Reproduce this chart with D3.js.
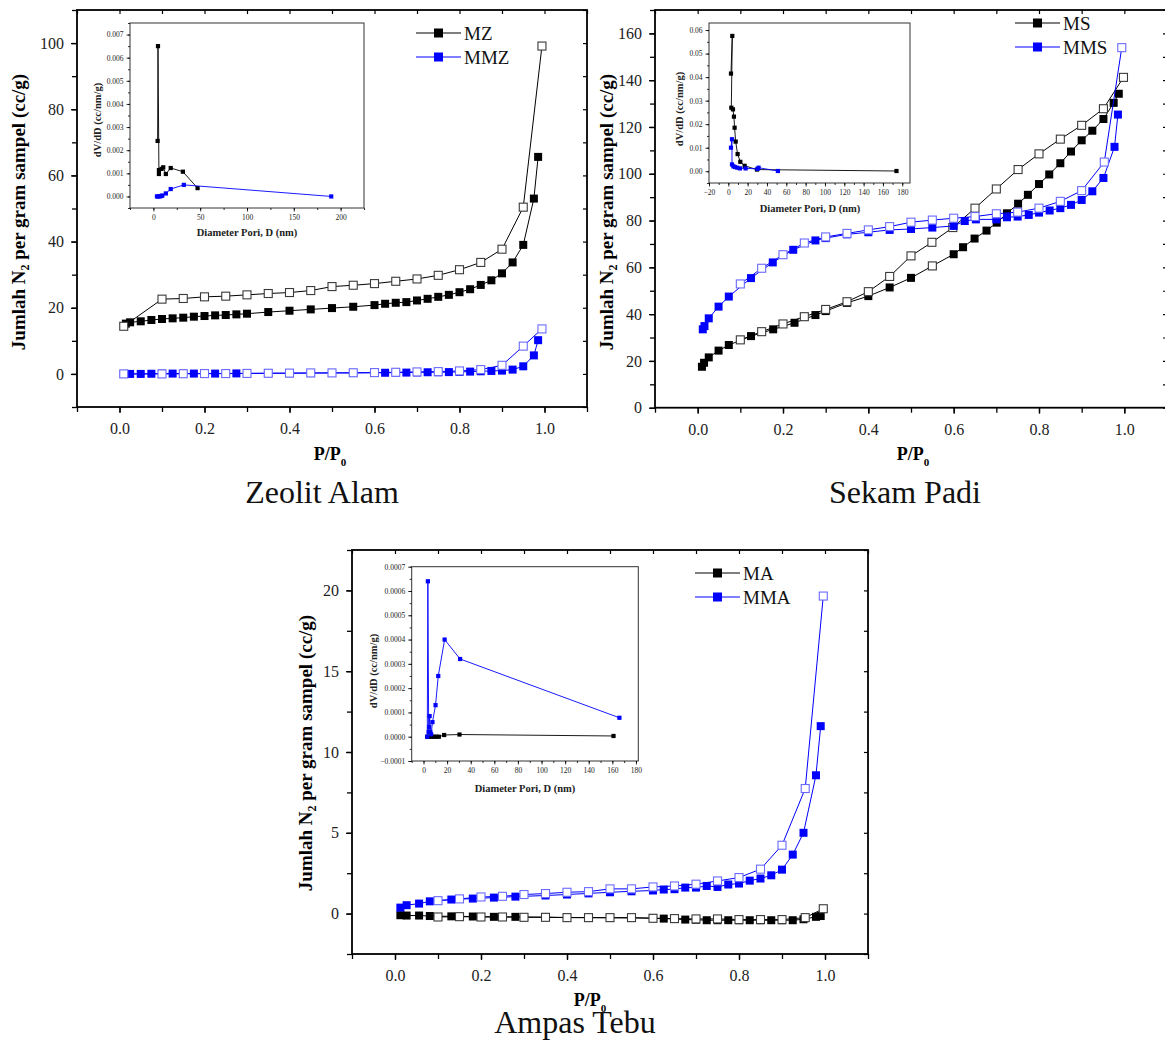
<!DOCTYPE html>
<html>
<head>
<meta charset="utf-8">
<script src="https://cdn.jsdelivr.net/npm/d3@7"></script>
<style>
  body { margin: 0; background: #fff; }
  svg { display: block; font-family: "Liberation Serif", "Times New Roman", serif; }
</style>
</head>
<body>
<svg width="1165" height="1043"></svg>
<script>
// DATA — Zeolit Alam (isotherm: P/P0 vs cc/g)
const mzAdsP = [0.015,0.025,0.05,0.075,0.1,0.125,0.15,0.175,0.2,0.225,0.25,0.275,0.3,0.35,0.4,0.45,0.5,0.55,0.6,0.625,0.65,0.675,0.7,0.725,0.75,0.775,0.8,0.825,0.85,0.875,0.9,0.925,0.95,0.975,0.985]
const mzAdsV = [15.2,15.6,15.9,16.3,16.6,16.8,17.0,17.3,17.5,17.7,17.8,18.0,18.2,18.7,19.1,19.5,19.9,20.3,20.8,21.2,21.5,21.7,22.2,22.7,23.3,23.9,24.7,25.6,26.9,28.3,30.4,33.7,39.0,53.0,65.6]
const mzDesP = [0.994,0.95,0.9,0.85,0.8,0.75,0.7,0.65,0.6,0.55,0.5,0.45,0.4,0.35,0.3,0.25,0.2,0.15,0.1,0.01]
const mzDesV = [99.1,50.4,37.7,33.7,31.5,29.8,28.7,28.0,27.3,26.8,26.4,25.2,24.6,24.3,23.9,23.5,23.3,22.8,22.6,14.4]
const mmzAdsP = [0.01,0.025,0.05,0.075,0.1,0.125,0.15,0.175,0.2,0.225,0.25,0.275,0.3,0.35,0.4,0.45,0.5,0.55,0.6,0.625,0.65,0.675,0.7,0.725,0.75,0.775,0.8,0.825,0.85,0.875,0.9,0.925,0.95,0.975,0.985]
const mmzAdsV = [0.0,0.0,0.0,0.05,0.1,0.1,0.1,0.1,0.1,0.1,0.15,0.15,0.15,0.2,0.2,0.25,0.3,0.3,0.35,0.35,0.4,0.4,0.45,0.5,0.5,0.55,0.6,0.7,0.8,0.9,1.0,1.3,2.3,5.6,10.2]
const mmzDesP = [0.994,0.95,0.9,0.85,0.8,0.75,0.7,0.65,0.6,0.55,0.5,0.45,0.4,0.35,0.3,0.25,0.2,0.15,0.1,0.01]
const mmzDesV = [13.6,8.4,2.6,1.3,0.9,0.7,0.6,0.5,0.4,0.35,0.3,0.3,0.25,0.2,0.15,0.1,0.1,0.05,0.0,0.0]
// pore size distribution (nm vs cc/nm/g)
const mzPoreD = [4.5,4.9,5.9,5.9,8.7,10.5,13.3,18.5,31.5,47.2]
const mzPoreV = [0.0024,0.0065,0.00097,0.00114,0.00119,0.00126,0.00097,0.00123,0.00107,0.00036]
const mmzPoreD = [3.8,5,7,8.5,9.5,13.3,18.5,32.5,190]
const mmzPoreV = [0.0,0.0,0.0,0.00002,0.00004,0.00013,0.00032,0.0005,0.0]

// DATA — Sekam Padi
const msAdsP = [0.01,0.015,0.026,0.049,0.073,0.125,0.177,0.227,0.276,0.3,0.35,0.4,0.45,0.5,0.55,0.6,0.622,0.649,0.677,0.701,0.725,0.751,0.774,0.8,0.824,0.85,0.875,0.9,0.925,0.951,0.975,0.987]
const msAdsV = [17.5,19.2,21.5,24.4,26.8,30.6,33.5,36.3,39.6,41.3,44.8,47.7,51.4,55.5,60.6,65.6,68.6,72.3,75.7,79.1,83.1,87.2,91.0,95.6,99.7,104.5,109.5,114.3,118.4,123.4,130.3,134.2]
const msDesP = [0.998,0.951,0.9,0.85,0.8,0.751,0.7,0.65,0.598,0.549,0.5,0.45,0.4,0.35,0.3,0.25,0.2,0.15,0.1]
const msDesV = [141.2,127.8,120.7,114.8,108.5,101.8,93.5,85.3,77.0,70.7,64.9,56.1,49.6,45.3,42.0,38.9,35.8,32.5,29.0]
const msOpenP = [0.55]
const msOpenV = [60.6]
const mmsAdsP = [0.012,0.016,0.026,0.049,0.073,0.125,0.176,0.224,0.276,0.3,0.35,0.4,0.45,0.5,0.55,0.6,0.626,0.652,0.7,0.725,0.75,0.776,0.8,0.825,0.85,0.875,0.9,0.925,0.951,0.977,0.985]
const mmsAdsV = [33.5,34.9,38.2,43.2,47.5,55.4,62.1,67.5,71.5,72.5,74.1,75.0,76.0,76.4,77.0,77.7,79.8,80.5,80.5,81.4,81.7,82.4,83.4,84.3,85.3,86.7,88.8,92.5,98.2,111.5,125.3]
const mmsDesP = [0.994,0.953,0.9,0.85,0.8,0.75,0.7,0.65,0.6,0.55,0.5,0.45,0.4,0.35,0.3,0.25,0.2,0.15,0.1]
const mmsDesV = [153.9,105.0,92.8,88.2,85.3,83.6,82.9,81.7,81.0,80.2,79.3,77.4,76.0,74.5,73.0,70.4,65.4,59.6,52.9]
const msPoreD = [2.75,4.1,3.1,4.8,5.8,6.5,7.6,9.6,12.4,16.9,29.6,174]
const msPoreV = [0.0415,0.0575,0.027,0.0263,0.0232,0.0185,0.0126,0.0073,0.004,0.0023,0.0007,0.0001]
const mmsPoreD = [2.75,3.8,3.8,5.2,6.8,9.3,12,17.9,30.3,31.3,51.3]
const mmsPoreV = [0.010,0.0136,0.0029,0.0021,0.0018,0.0015,0.0012,0.0012,0.001,0.0015,0.0001]

// DATA — Ampas Tebu
const ampasAdsP = [0.0125,0.027,0.056,0.081,0.131,0.181,0.23,0.28,0.35,0.4,0.45,0.5,0.55,0.6,0.625,0.65,0.675,0.7,0.725,0.75,0.775,0.8,0.825,0.85,0.875,0.9,0.925,0.95,0.979,0.99]
const maAdsV = [-0.1,-0.12,-0.12,-0.15,-0.17,-0.18,-0.2,-0.2,-0.22,-0.24,-0.25,-0.26,-0.27,-0.28,-0.31,-0.33,-0.37,-0.38,-0.41,-0.41,-0.41,-0.41,-0.41,-0.41,-0.41,-0.41,-0.41,-0.35,-0.2,-0.15]
const mmaAdsV = [0.37,0.52,0.62,0.76,0.87,0.93,0.99,1.05,1.12,1.18,1.25,1.32,1.38,1.43,1.49,1.51,1.61,1.61,1.71,1.65,1.8,1.86,2.04,2.17,2.37,2.72,3.65,5.0,8.56,11.6]
const ampasDesP = [0.996,0.954,0.9,0.85,0.8,0.75,0.7,0.65,0.6,0.55,0.5,0.45,0.4,0.35,0.3,0.25,0.2,0.15,0.1]
const maDesV = [0.3,-0.25,-0.37,-0.37,-0.37,-0.33,-0.33,-0.31,-0.29,-0.25,-0.25,-0.25,-0.25,-0.23,-0.23,-0.21,-0.21,-0.19,-0.21]
const mmaDesV = [19.65,7.74,4.23,2.75,2.23,2.02,1.82,1.71,1.65,1.53,1.53,1.36,1.32,1.24,1.18,1.07,1.03,0.91,0.8]
const maPoreD = [3.2,5,7,9,11,13,17.5,30.5,161]
const maPoreV = [0,0,0,0,0,0,0.000007,0.000009,0.000003]
const mmaPoreD = [3.2,3.7,4.4,4.8,5.2,5.8,6.5,7.6,10.2,12.5,17.9,31,166]
const mmaPoreV = [0,0.00064,0.00002,0.00004,0.000085,0.00002,0.00001,0.00006,0.00013,0.00025,0.0004,0.00032,0.000078]

// SETUP
const svg = d3.select("svg")
const BLACK = "#000"
const BLUE = "#0000ff"
const HOLLOW = { [BLACK]: "#3a3a3a", [BLUE]: "#6a6aff" }

// evenly spaced tick values from a to b (never past b)
const range = (a, b, s) => d3.range(Math.floor((b - a) / s + 1e-9) + 1).map(i => +(a + i * s).toFixed(6))

const styleAxis = (g, size, width) => {
  g.select(".domain").remove()
  g.selectAll("line").attr("stroke", "#000").attr("stroke-width", width)
  g.attr("font-family", "Liberation Serif").attr("font-size", size)
  g.selectAll("text").attr("fill", "#222")
}

const drawSeries = (g, x, y, P, V, color, hollow, size, lw, noLine) => {
  const pts = d3.zip(P, V)
  if (!noLine) {
    g.append("path")
      .datum(pts)
      .attr("fill", "none")
      .attr("stroke", color)
      .attr("stroke-width", lw)
      .attr("d", d3.line().x(d => x(d[0])).y(d => y(d[1])))
  }
  g.selectAll(null)
    .data(pts)
    .join("rect")
    .attr("x", d => x(d[0]) - size / 2)
    .attr("y", d => y(d[1]) - size / 2)
    .attr("width", size)
    .attr("height", size)
    .attr("fill", hollow ? "#fff" : color)
    .attr("stroke", hollow ? HOLLOW[color] : "none")
    .attr("stroke-width", hollow ? 1.1 : 0)
}

// MAIN PANEL
const drawMain = (c) => {
  const g = svg.append("g")
  const x = d3.scaleLinear().domain([-0.1, 1.1]).range([c.x0, c.x1])
  const y = d3.scaleLinear().domain(c.yDomain).range([c.y0, c.y1])

  const xMajor = range(0, 1, 0.2)
  const xMinor = range(-0.1, 1.1, 0.1)
  const yMajor = range(0, c.yDomain[1], c.yStep)
  const yMinor = range(c.yDomain[0], c.yDomain[1], c.yStep / 2)

  g.append("g").attr("transform", `translate(0,${c.y0})`)
    .call(d3.axisBottom(x).tickValues(xMinor).tickSize(5).tickFormat(""))
    .call(a => styleAxis(a, 16, 1.3))
  g.append("g").attr("transform", `translate(0,${c.y0})`)
    .call(d3.axisBottom(x).tickValues(xMajor).tickSize(6).tickPadding(10).tickFormat(d3.format(".1f")))
    .call(a => styleAxis(a, 16, 1.3))
  g.append("g").attr("transform", `translate(${c.x0},0)`)
    .call(d3.axisLeft(y).tickValues(yMinor).tickSize(5).tickFormat(""))
    .call(a => styleAxis(a, 16, 1.3))
  g.append("g").attr("transform", `translate(${c.x0},0)`)
    .call(d3.axisLeft(y).tickValues(yMajor).tickSize(6).tickPadding(7).tickFormat(d3.format("d")))
    .call(a => styleAxis(a, 16, 1.3))
  g.append("g").attr("transform", `translate(0,${c.y1})`)
    .call(d3.axisTop(x).tickValues(xMinor).tickSize(-4).tickFormat(""))
    .call(a => styleAxis(a, 16, 1.2))
  g.append("g").attr("transform", `translate(${c.x1},0)`)
    .call(d3.axisRight(y).tickValues(yMinor).tickSize(-4).tickFormat(""))
    .call(a => styleAxis(a, 16, 1.2))

  g.append("rect")
    .attr("x", c.x0).attr("y", c.y1)
    .attr("width", c.x1 - c.x0).attr("height", c.y0 - c.y1)
    .attr("fill", "none").attr("stroke", "#000").attr("stroke-width", 1.8)

  c.series.forEach(s => drawSeries(g, x, y, s.P, s.V, s.color, s.hollow, 8, 1, s.noLine))

  // legend
  c.legend.forEach((l, i) => {
    const ly = c.legendY + i * 24
    g.append("line")
      .attr("x1", c.legendX).attr("x2", c.legendX + 45)
      .attr("y1", ly).attr("y2", ly)
      .attr("stroke", l.color).attr("stroke-width", 1.2)
    g.append("rect")
      .attr("x", c.legendX + 22.5 - 4.5).attr("y", ly - 4.5)
      .attr("width", 9).attr("height", 9).attr("fill", l.color)
    g.append("text")
      .attr("x", c.legendX + 48).attr("y", ly + 7)
      .attr("font-size", 19).attr("fill", "#111")
      .text(l.name)
  })

  // axis titles
  const yt = g.append("text")
    .attr("transform", `translate(${c.yTitleX},${c.yTitleY}) rotate(-90)`)
    .attr("text-anchor", "middle").attr("font-weight", "bold").attr("font-size", 19)
  yt.append("tspan").text("Jumlah N")
  yt.append("tspan").attr("font-size", 12).attr("dy", 4).text("2")
  yt.append("tspan").attr("dy", -4).text(" per gram sampel (cc/g)")

  const xt = g.append("text")
    .attr("x", c.xTitleX).attr("y", c.xTitleY)
    .attr("text-anchor", "middle").attr("font-weight", "bold").attr("font-size", 18)
  xt.append("tspan").text("P/P")
  xt.append("tspan").attr("font-size", 11).attr("dy", 6).text("0")

  g.append("text")
    .attr("x", c.titleX).attr("y", c.titleY)
    .attr("text-anchor", "middle").attr("font-size", 32).attr("fill", "#111")
    .text(c.title)
}

// INSET PANEL
const drawInset = (c) => {
  const g = svg.append("g")
  const x = d3.scaleLinear().domain(c.xDomain).range([c.x0, c.x1])
  const y = d3.scaleLinear().domain(c.yDomain).range([c.y0, c.y1])

  g.append("rect")
    .attr("x", c.x0).attr("y", c.y1)
    .attr("width", c.x1 - c.x0).attr("height", c.y0 - c.y1)
    .attr("fill", "#fff").attr("stroke", "#333").attr("stroke-width", 1)

  g.append("g").attr("transform", `translate(0,${c.y0})`)
    .call(d3.axisBottom(x).tickValues(c.xMinor).tickSize(2).tickFormat(""))
    .call(a => styleAxis(a, 7.5, 0.8))
  g.append("g").attr("transform", `translate(0,${c.y0})`)
    .call(d3.axisBottom(x).tickValues(c.xMajor).tickSize(3.5).tickPadding(3).tickFormat(d3.format("d")))
    .call(a => styleAxis(a, 7.5, 0.8))
  g.append("g").attr("transform", `translate(${c.x0},0)`)
    .call(d3.axisLeft(y).tickValues(c.yMinor).tickSize(2).tickFormat(""))
    .call(a => styleAxis(a, 7.5, 0.8))
  g.append("g").attr("transform", `translate(${c.x0},0)`)
    .call(d3.axisLeft(y).tickValues(c.yMajor).tickSize(3.5).tickPadding(3).tickFormat(d3.format(c.yFmt)))
    .call(a => styleAxis(a, 7.5, 0.8))

  c.series.forEach(s => drawSeries(g, x, y, s.D, s.V, s.color, false, 4.2, 0.9))

  g.append("text")
    .attr("transform", `translate(${c.yTitleX},${c.yTitleY}) rotate(-90)`)
    .attr("text-anchor", "middle").attr("font-weight", "bold").attr("font-size", 10.5)
    .attr("fill", "#222")
    .text("dV/dD (cc/nm/g)")
  g.append("text")
    .attr("x", c.xTitleX).attr("y", c.xTitleY)
    .attr("text-anchor", "middle").attr("font-weight", "bold").attr("font-size", 10.5)
    .attr("fill", "#222")
    .text("Diameter Pori, D (nm)")
}

// ZEOLIT ALAM
drawMain({
  x0: 77, x1: 587, y0: 407, y1: 10, yDomain: [-10, 110], yStep: 20,
  series: [
    { P: mzAdsP, V: mzAdsV, color: BLACK },
    { P: mzDesP, V: mzDesV, color: BLACK, hollow: true },
    { P: mmzAdsP, V: mmzAdsV, color: BLUE },
    { P: mmzDesP, V: mmzDesV, color: BLUE, hollow: true }
  ],
  legend: [{ name: "MZ", color: BLACK }, { name: "MMZ", color: BLUE }],
  legendX: 416, legendY: 33,
  yTitleX: 25, yTitleY: 212, xTitleX: 330, xTitleY: 460,
  title: "Zeolit Alam", titleX: 322, titleY: 503
})
drawInset({
  x0: 130, x1: 364, y0: 208, y1: 23, xDomain: [-25, 225], yDomain: [-0.0005, 0.0075],
  xMajor: range(0, 200, 50), xMinor: range(-25, 225, 25),
  yMajor: range(0, 0.007, 0.001), yMinor: range(-0.0005, 0.0075, 0.0005), yFmt: ".3f",
  series: [
    { D: mzPoreD, V: mzPoreV, color: BLACK },
    { D: mmzPoreD, V: mmzPoreV, color: BLUE }
  ],
  yTitleX: 101, yTitleY: 120, xTitleX: 247, xTitleY: 236
})

// SEKAM PADI
drawMain({
  x0: 655, x1: 1167, y0: 407.7, y1: 10, yDomain: [0, 170], yStep: 20,
  series: [
    { P: msAdsP, V: msAdsV, color: BLACK },
    { P: msOpenP, V: msOpenV, color: BLACK, hollow: true, noLine: true },
    { P: msDesP, V: msDesV, color: BLACK, hollow: true },
    { P: mmsAdsP, V: mmsAdsV, color: BLUE },
    { P: mmsDesP, V: mmsDesV, color: BLUE, hollow: true }
  ],
  legend: [{ name: "MS", color: BLACK }, { name: "MMS", color: BLUE }],
  legendX: 1015, legendY: 23,
  yTitleX: 613, yTitleY: 212, xTitleX: 913, xTitleY: 460,
  title: "Sekam Padi", titleX: 905, titleY: 503
})
drawInset({
  x0: 709, x1: 910, y0: 183, y1: 23, xDomain: [-20, 188], yDomain: [-0.005, 0.063],
  xMajor: range(-20, 180, 20), xMinor: range(-20, 180, 10),
  yMajor: range(0, 0.06, 0.01), yMinor: range(-0.005, 0.06, 0.005), yFmt: ".2f",
  series: [
    { D: msPoreD, V: msPoreV, color: BLACK },
    { D: mmsPoreD, V: mmsPoreV, color: BLUE }
  ],
  yTitleX: 683, yTitleY: 109, xTitleX: 810, xTitleY: 212
})

// AMPAS TEBU
drawMain({
  x0: 352, x1: 868, y0: 954, y1: 550, yDomain: [-2.5, 22.5], yStep: 5,
  series: [
    { P: ampasAdsP, V: maAdsV, color: BLACK },
    { P: ampasDesP, V: maDesV, color: BLACK, hollow: true },
    { P: ampasAdsP, V: mmaAdsV, color: BLUE },
    { P: ampasDesP, V: mmaDesV, color: BLUE, hollow: true }
  ],
  legend: [{ name: "MA", color: BLACK }, { name: "MMA", color: BLUE }],
  legendX: 695, legendY: 573,
  yTitleX: 312, yTitleY: 753, xTitleX: 590, xTitleY: 1006,
  title: "Ampas Tebu", titleX: 575, titleY: 1033
})
drawInset({
  x0: 411.7, x1: 638.3, y0: 761, y1: 566.7, xDomain: [-10, 182], yDomain: [-0.0001, 0.0007],
  xMajor: range(0, 180, 20), xMinor: range(-10, 180, 10),
  yMajor: range(-0.0001, 0.0007, 0.0001), yMinor: range(-0.0001, 0.0007, 0.00005), yFmt: ".4f",
  series: [
    { D: maPoreD, V: maPoreV, color: BLACK },
    { D: mmaPoreD, V: mmaPoreV, color: BLUE }
  ],
  yTitleX: 377, yTitleY: 671, xTitleX: 525, xTitleY: 792
})
</script>
</body>
</html>
